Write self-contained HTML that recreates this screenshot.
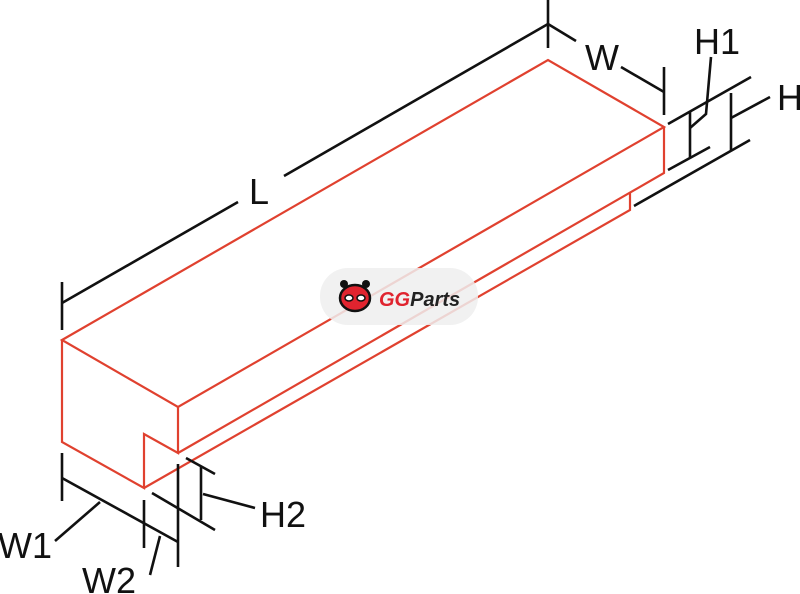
<!DOCTYPE html>
<html><head><style>
html,body{margin:0;padding:0;background:#fff;}
svg{display:block;}
text{font-family:"Liberation Sans",sans-serif;}
</style></head><body>
<svg width="800" height="594" viewBox="0 0 800 594" xmlns="http://www.w3.org/2000/svg">
<g fill="none" stroke="#e0412f" stroke-width="2.2" stroke-linejoin="miter">
<polygon points="62,340 548,60 664,127 178,407"/>
<polyline points="62,340 62,442 144,488 144,434 178,453 178,407"/>
<polyline points="664,127 664,173 178,453"/>
<polyline points="630,193 630,210 144,488"/>
</g>
<g fill="none" stroke="#111" stroke-width="2.6">
<!-- L -->
<line x1="62" y1="282" x2="62" y2="330"/>
<line x1="548" y1="0" x2="548" y2="48"/>
<line x1="62" y1="303" x2="238" y2="202"/>
<line x1="284" y1="176" x2="548" y2="24"/>
<!-- W -->
<line x1="664" y1="67" x2="664" y2="115"/>
<line x1="548" y1="24" x2="576" y2="41"/>
<line x1="621" y1="67" x2="664" y2="92"/>
<!-- H1/H ext -->
<line x1="668" y1="124" x2="751" y2="77"/>
<line x1="668" y1="170" x2="710" y2="147"/>
<line x1="634" y1="206" x2="750" y2="140"/>
<line x1="690" y1="112" x2="690" y2="158"/>
<polyline points="711,57 706,114 690,128"/>
<line x1="731" y1="93" x2="731" y2="150"/>
<line x1="731" y1="118" x2="770" y2="97"/>
<!-- H2 -->
<line x1="186" y1="458" x2="215" y2="474"/>
<line x1="152" y1="493" x2="215" y2="530"/>
<line x1="201" y1="467" x2="201" y2="520"/>
<line x1="203" y1="494" x2="255" y2="508"/>
<!-- W1 W2 -->
<line x1="62" y1="453" x2="62" y2="501"/>
<line x1="144" y1="500" x2="144" y2="548"/>
<line x1="178" y1="464" x2="178" y2="567"/>
<line x1="62" y1="478" x2="178" y2="542"/>
<line x1="100" y1="502" x2="55" y2="541"/>
<line x1="160" y1="536" x2="150" y2="575"/>
</g>
<g fill="#111" font-size="36">
<text x="249" y="204">L</text>
<text x="585" y="70">W</text>
<text x="694" y="54">H1</text>
<text x="777" y="110">H</text>
<text x="260" y="527">H2</text>
<text x="-2" y="558">W1</text>
<text x="82" y="593">W2</text>
</g>
<rect x="320" y="268" width="158" height="57" rx="28" fill="#eeeeee" fill-opacity="0.85"/>
<g>
<ellipse cx="355" cy="298" rx="15" ry="13" fill="#e0242f" stroke="#111" stroke-width="2.5"/>
<circle cx="344" cy="284" r="4" fill="#111"/>
<circle cx="366" cy="284" r="4" fill="#111"/>
<ellipse cx="349" cy="298" rx="4" ry="3" fill="#fff" stroke="#111" stroke-width="1.5"/>
<ellipse cx="361" cy="298" rx="4" ry="3" fill="#fff" stroke="#111" stroke-width="1.5"/>
</g>
<text x="379" y="306" font-size="20" font-weight="bold" font-style="italic" fill="#e0242f">GG<tspan fill="#222">Parts</tspan></text>
</svg>
</body></html>
